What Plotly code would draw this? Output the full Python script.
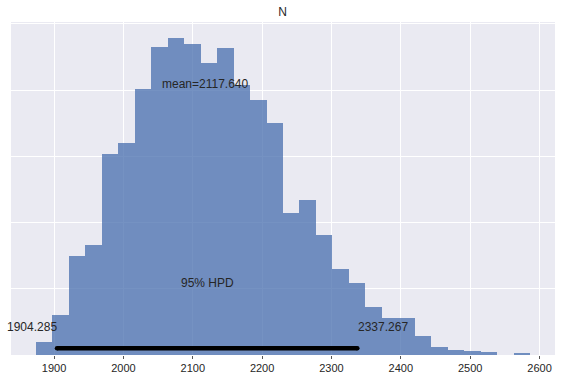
import numpy as np
import plotly.graph_objects as go

# ---- data ----
bin_lo = 1873.6
bin_hi = 2586.6
counts = [20, 60, 150, 166, 304, 320, 402, 465, 479, 470,
          441, 464, 408, 385, 350, 214, 234, 181, 130, 109,
          72, 56, 56, 29, 12, 8, 6, 4, 0, 3]
mean_val = 2117.640
hpd_low = 1904.285
hpd_high = 2337.267
x_ticks = [1900, 2000, 2100, 2200, 2300, 2400, 2500, 2600]
title = "N"

n_bins = len(counts)
edges = np.linspace(bin_lo, bin_hi, n_bins + 1)
centers = (edges[:-1] + edges[1:]) / 2
width = edges[1] - edges[0]

ymax = 1.05 * max(counts)
span = bin_hi - bin_lo
xlim = [bin_lo - 0.05 * span, bin_hi + 0.05 * span]

txt = "#262626"
font = "Liberation Sans, Arial, sans-serif"

fig = go.Figure()
fig.add_trace(go.Bar(
    x=centers, y=counts, width=width,
    marker=dict(color="#4C72B0", line=dict(width=0)),
    opacity=0.77, showlegend=False, hoverinfo="skip",
))
fig.add_trace(go.Scatter(
    x=[hpd_low, hpd_high], y=[0.02 * ymax, 0.02 * ymax],
    mode="lines+markers",
    line=dict(color="black", width=4.5),
    marker=dict(color="black", size=4.5),
    showlegend=False, hoverinfo="skip",
))

afont = dict(size=12, color=txt, family=font)
fig.add_annotation(x=mean_val, y=0.8 * ymax, text="mean=%.3f" % mean_val,
                   xref="x", yref="y", showarrow=False, xanchor="center",
                   yanchor="bottom", yshift=-4, font=afont)
fig.add_annotation(x=(hpd_low + hpd_high) / 2, y=0.2 * ymax, text="95% HPD",
                   xref="x", yref="y", showarrow=False, xanchor="center",
                   yanchor="bottom", yshift=-4, font=afont)
fig.add_annotation(x=hpd_low, y=0.07 * ymax, text="%.3f" % hpd_low,
                   xref="x", yref="y", showarrow=False, xanchor="right",
                   yanchor="bottom", yshift=-4, xshift=2, font=afont)
fig.add_annotation(x=hpd_high, y=0.07 * ymax, text="%.3f" % hpd_high,
                   xref="x", yref="y", showarrow=False, xanchor="left",
                   yanchor="bottom", yshift=-4, xshift=-1.5, font=afont)

fig.update_layout(
    width=565, height=384,
    margin=dict(l=11, r=10, t=22, b=29),
    paper_bgcolor="white", plot_bgcolor="#EAEAF2",
    bargap=0,
    title=dict(text=title, x=0.5, xanchor="center", y=1 - 12 / 384,
               yanchor="middle", font=afont),
    font=dict(family=font, color=txt),
    xaxis=dict(range=xlim, tickvals=x_ticks, showgrid=True, gridcolor="white",
               gridwidth=1, zeroline=False, ticks="outside", ticklen=3,
               tickcolor="#555555", tickfont=dict(size=11, color=txt, family=font),
               showline=False),
    yaxis=dict(range=[0, ymax], dtick=100, showgrid=True, gridcolor="white",
               gridwidth=1, zeroline=False, showticklabels=False, ticks=""),
)

# remove the browser's default 8px page margin so the figure fills the window
fig.write_html("out.html", config={"displayModeBar": False},
               post_script="document.body.style.margin='0';document.body.style.overflow='hidden';")
